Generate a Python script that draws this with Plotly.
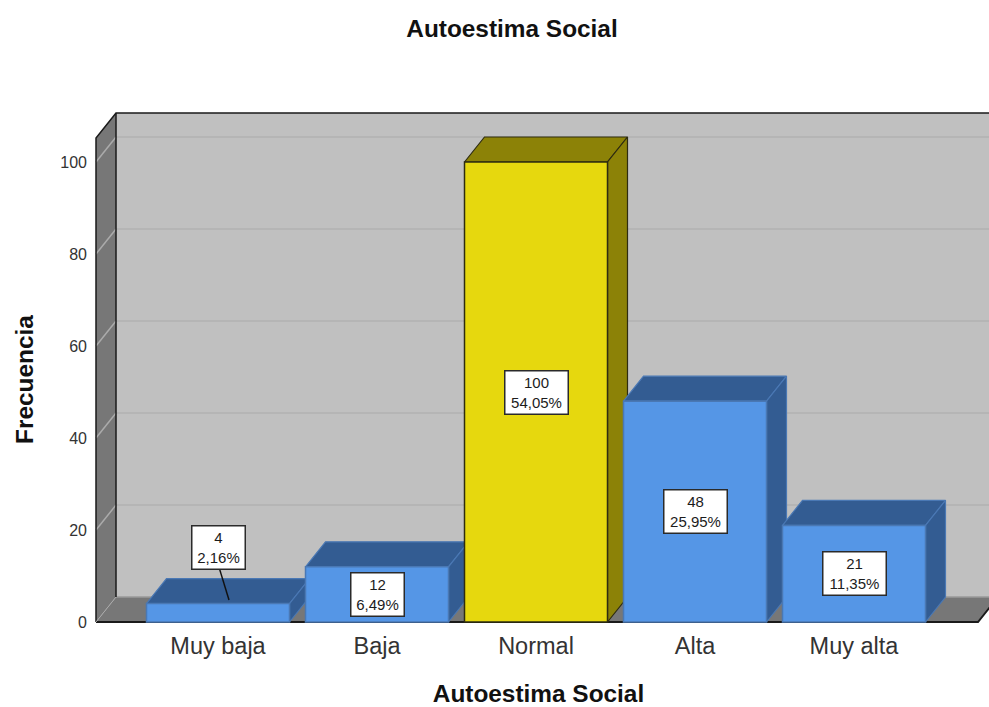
import plotly.graph_objects as go

categories = ["Muy baja", "Baja", "Normal", "Alta", "Muy alta"]
frequencies = [4, 12, 100, 48, 21]
percent_labels = ["2,16%", "6,49%", "54,05%", "25,95%", "11,35%"]
label_heights = [16.3, 6, 50, 24, 10.5]
y_ticks = [0, 20, 40, 60, 80, 100]
front_colors = ["#5596E6", "#5596E6", "#E6D80E", "#5596E6", "#5596E6"]
shade_colors = ["#335C92", "#335C92", "#8C8207", "#335C92", "#335C92"]
edge_colors = ["#4A78B4", "#4A78B4", "#2E2C10", "#4A78B4", "#4A78B4"]

W, H = 989, 707
PX_X, PX_Y = 159.0, 4.6      # pixels per category / per count
X0_PX, Y0_PX = 218.0, 622.0  # pixel of category 0 / count 0
L, R, T, B = 88, 989, 109, 627
DX, DY = 20 / PX_X, 25 / PX_Y
BAR = 143 / PX_X
xr = [(L - X0_PX) / PX_X, (R - X0_PX) / PX_X]
yr = [(Y0_PX - B) / PX_Y, (Y0_PX - T) / PX_Y]
x_left = (96 - X0_PX) / PX_X
x_right = (978 - X0_PX) / PX_X
y_top = (622 - 138) / PX_Y

fig = go.Figure()


def poly(xs, ys, fill, line="rgba(0,0,0,0)", width=1):
    fig.add_trace(go.Scatter(x=xs, y=ys, mode="lines", fill="toself", fillcolor=fill,
                             line=dict(color=line, width=width), hoverinfo="skip", showlegend=False))


def seg(xs, ys, color, width):
    fig.add_trace(go.Scatter(x=xs, y=ys, mode="lines", line=dict(color=color, width=width),
                             hoverinfo="skip", showlegend=False))


# walls and floor
poly([x_left + DX, x_right + 2 * DX, x_right + 2 * DX, x_left + DX],
     [DY, DY, y_top + DY, y_top + DY], "#C0C0C0")
poly([x_left, x_left + DX, x_left + DX, x_left], [0, DY, y_top + DY, y_top], "#777777")
poly([x_left, x_right, x_right + DX, x_left + DX], [0, 0, DY, DY], "#777777")
for t in y_ticks[1:]:
    seg([x_left + DX, x_right + 2 * DX], [t + DY, t + DY], "#B2B2B2", 1.5)
    seg([x_left, x_left + DX], [t, t + DY], "#ABABAB", 1.5)
seg([x_left + DX, x_right + 2 * DX], [DY, DY], "#9A9A9A", 1.5)
seg([x_left, x_left, x_left + DX, x_right + 2 * DX], [0, y_top, y_top + DY, y_top + DY], "#1A1A1A", 1.5)
seg([x_left + DX, x_left + DX], [DY, y_top + DY], "#1A1A1A", 1.5)
seg([x_left, x_right, x_right + DX], [0, 0, DY], "#1A1A1A", 2)
seg([x_left, x_left + DX], [0, DY], "#AAAAAA", 1)

# 3D faces of each bar
for i, v in enumerate(frequencies):
    a, b = i - BAR / 2, i + BAR / 2
    poly([a, b, b + DX, a + DX, a], [v, v, v + DY, v + DY, v], shade_colors[i], edge_colors[i], 1.2)
    poly([b, b + DX, b + DX, b, b], [0, DY, v + DY, v, 0], shade_colors[i], edge_colors[i], 1.2)

# leader line of the first label
seg([0.01, 11 / PX_X], [11.5, frequencies[0] + 0.78], "#111111", 1.5)

# front faces
fig.add_trace(go.Bar(x=list(range(len(categories))), y=frequencies, width=BAR,
                     marker=dict(color=front_colors, line=dict(color=edge_colors, width=1.5)),
                     xaxis="x2", yaxis="y2", hoverinfo="skip", showlegend=False))

annotations = []
for i, (v, p, h) in enumerate(zip(frequencies, percent_labels, label_heights)):
    annotations.append(dict(x=i, y=h, xref="x", yref="y", text=f"{v}<br>{p}", showarrow=False,
                            width=10 * len(p) + 2, height=42, bgcolor="white", valign="middle",
                            bordercolor="#2A2A2A", borderwidth=1.5, borderpad=0,
                            font=dict(family="Liberation Sans", size=15, color="#1C1C1C")))
annotations.append(dict(x=(24 - L) / (R - L), y=(B - 380) / (B - T), xref="paper", yref="paper",
                        xanchor="center", yanchor="middle", text="<b>Frecuencia</b>",
                        showarrow=False, textangle=-90,
                        font=dict(family="Liberation Sans", size=24.4, color="#111111")))

axis_common = dict(showgrid=False, zeroline=False, showline=False)
fig.update_layout(
    width=W, height=H, margin=dict(l=L, r=W - R, t=T, b=H - B, pad=0, autoexpand=False),
    paper_bgcolor="white", plot_bgcolor="rgba(0,0,0,0)",
    font=dict(family="Liberation Sans", color="#1C1C1C"),
    showlegend=False, annotations=annotations,
    title=dict(text="<b>Autoestima Social</b>", x=(512 - L) / (R - L), xref="paper", xanchor="center",
               y=1 - 28 / H, yref="container", yanchor="middle",
               font=dict(family="Liberation Sans", size=24.4, color="#111111")),
    xaxis=dict(range=xr, tickmode="array", tickvals=list(range(len(categories))), ticktext=categories,
               tickfont=dict(size=23.5, color="#333333"), ticks="", ticklabelstandoff=2,
               title=dict(text="<b>Autoestima Social</b>", font=dict(size=24.4, color="#111111"), standoff=30),
               **axis_common),
    yaxis=dict(range=yr, tickmode="array", tickvals=y_ticks, tickfont=dict(size=16, color="#333333"),
               **axis_common),
    xaxis2=dict(range=xr, overlaying="x", visible=False),
    yaxis2=dict(range=yr, overlaying="y", visible=False),
)
fig.write_html("out.html", config={"displayModeBar": False},
               post_script="document.body.style.margin='0';document.body.style.overflow='hidden';")
